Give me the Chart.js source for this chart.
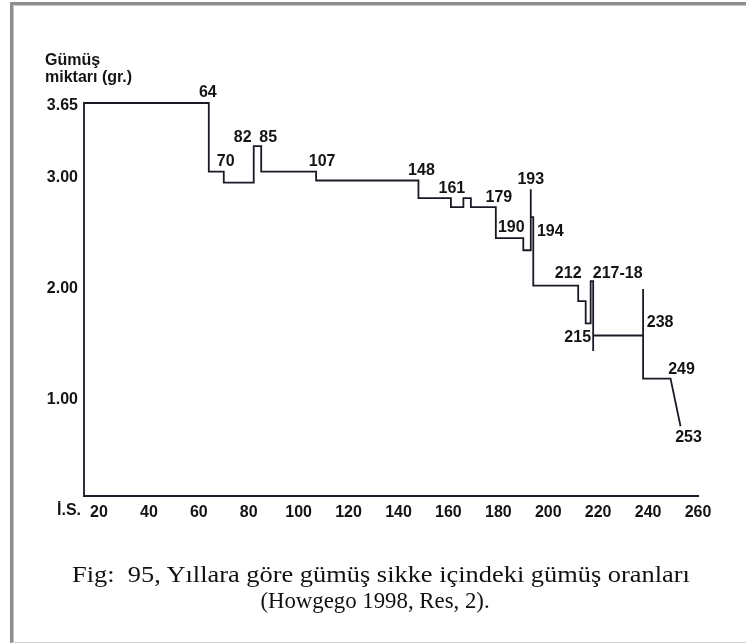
<!DOCTYPE html>
<html lang="tr">
<head>
<meta charset="utf-8">
<title>Gümüş miktarı</title>
<script src="https://cdn.jsdelivr.net/npm/chart.js@4.4.1/dist/chart.umd.min.js"></script>
<style>
    html, body { margin: 0; padding: 0; background: #fff; }
    body { width: 746px; height: 643px; position: relative; overflow: hidden; }
    .frame {
        position: absolute; left: 10px; top: 2px; width: 736px; height: 641px;
        box-sizing: border-box;
        border-left: 3px solid #8e8e8e; border-top: 3px solid #8e8e8e;
        border-bottom: 1px solid #d2d2d2;
        box-shadow: inset 1px 1px 0 #c6c6c6;
    }
    #chart { position: absolute; left: 0; top: 0; }
    .caption {
        position: absolute; left: 0; width: 762px; color: #111;
        text-align: center; white-space: nowrap;
        font-family: "Liberation Serif", "Times New Roman", serif;
        font-size: 24px; line-height: 26px;
    }
    .caption.first { top: 561px; transform: scaleX(1.1); }
    .caption.second { top: 587px; left: -6px; transform: scaleX(0.95); }
</style>
</head>
<body>
<div class="frame"></div>
<canvas id="chart" width="746" height="643"></canvas>
<div class="caption first">Fig:&nbsp; 95, Yıllara göre gümüş sikke içindeki gümüş oranları</div>
<div class="caption second">(Howgego 1998, Res, 2).</div>
<script>
// DATA - step line, year (İ.S.) and silver weight in grams
const years  = [14, 14, 64, 64, 70, 70, 82, 82, 85, 85, 107, 107, 148, 148, 161, 161, 166, 166, 169, 169,
                179, 179, 190, 190, 193, 193, 193, 194, 194, 212, 212, 215, 215, 217, 217, 218, 218, 218,
                238, 238, 238, 249, 253];
const silver = [0.1, 3.65, 3.65, 3.03, 3.03, 2.93, 2.93, 3.26, 3.26, 3.03, 3.03, 2.95, 2.95, 2.79, 2.79, 2.71, 2.71, 2.79, 2.79, 2.71,
                2.71, 2.43, 2.43, 2.32, 2.32, 2.87, 2.62, 2.62, 2.00, 2.00, 1.86, 1.86, 1.66, 1.66, 2.04, 2.04, 1.41, 1.55,
                1.55, 1.97, 1.16, 1.16, 0.73];

const xTicks = [20, 40, 60, 80, 100, 120, 140, 160, 180, 200, 220, 240, 260];
const yTicks = [1.00, 2.00, 3.00, 3.65];

// year labels written next to the steps
const stepLabels  = ['64', '70', '82', '85', '107', '148', '161', '179', '190', '193', '194', '212', '217-18', '215', '238', '249', '253'];
const labelYears  = [64, 70, 82, 85, 107, 148, 161, 179, 190, 193, 194, 212, 217, 215, 238, 249, 253];
const labelSilver = [3.65, 3.03, 3.26, 3.26, 3.03, 2.95, 2.79, 2.71, 2.43, 2.87, 2.62, 2.00, 2.04, 1.66, 1.55, 1.16, 0.73];

// pixel nudges for the labels, same order as stepLabels
const labelNudge = [[-1, -10], [2, -10], [-11, -9], [7, -9], [6, -10], [3, -10], [1, -10], [3, -9], [-12, -10],
                    [0, -10], [17, 15], [-10, -12], [27, -8], [-8, 14], [17, -13], [11, -9], [8, 11]];

const boldFont = 'bold 16px "Liberation Sans", Arial, sans-serif';
const ink = '#141414';

// STEP LABELS + AXIS TITLE
const stepLabelPlugin = {
    id: 'stepLabels',
    afterDraw(chart) {
        const ctx = chart.ctx;
        const x = chart.scales.x, y = chart.scales.y;
        ctx.save();
        ctx.font = boldFont;
        ctx.fillStyle = ink;
        ctx.textAlign = 'center';
        ctx.textBaseline = 'middle';
        stepLabels.forEach(function (txt, i) {
            const px = x.getPixelForValue(labelYears[i]) + labelNudge[i][0];
            const py = y.getPixelForValue(labelSilver[i]) + labelNudge[i][1];
            ctx.fillText(txt, px, py);
        });
        // era mark left of the year ticks
        ctx.fillText('İ.S.', chart.chartArea.left - 15, chart.chartArea.bottom + 15);
        // y axis title
        ctx.textAlign = 'left';
        ctx.textBaseline = 'alphabetic';
        ctx.fillText('Gümüş', 45, 65);
        ctx.fillText('miktarı (gr.)', 45, 82);
        ctx.restore();
    }
};

const points = years.map(function (yr, i) { return { x: yr, y: silver[i] }; });

new Chart(document.getElementById('chart'), {
    type: 'line',
    data: {
        datasets: [{
            data: points,
            borderColor: '#1a1a24',
            borderWidth: 1.8,
            pointRadius: 0,
            tension: 0,
            fill: false,
            clip: false
        }]
    },
    options: {
        responsive: false,
        animation: false,
        events: [],
        layout: { padding: { left: 44, right: 48, top: 103, bottom: 117 } },
        plugins: { legend: { display: false }, tooltip: { enabled: false } },
        scales: {
            x: {
                type: 'linear',
                min: 14,
                max: 260,
                grid: { display: false, drawTicks: false },
                border: { display: true, color: '#1c1c2a', width: 2 },
                afterBuildTicks: function (s) { s.ticks = xTicks.map(function (v) { return { value: v }; }); },
                afterFit: function (s) { s.height = 30; },
                ticks: {
                    padding: 7,
                    color: ink,
                    font: { family: '"Liberation Sans", Arial, sans-serif', size: 16, weight: 'bold' },
                    maxRotation: 0,
                    autoSkip: false,
                    callback: function (v) { return String(v); }
                }
            },
            y: {
                type: 'linear',
                min: 0.1,
                max: 3.65,
                grid: { display: false, drawTicks: false },
                border: { display: false },
                afterBuildTicks: function (s) { s.ticks = yTicks.map(function (v) { return { value: v }; }); },
                afterFit: function (s) { s.width = 40; },
                ticks: {
                    padding: 6,
                    labelOffset: 3,
                    color: ink,
                    font: { family: '"Liberation Sans", Arial, sans-serif', size: 16, weight: 'bold' },
                    autoSkip: false,
                    callback: function (v) { return v.toFixed(2); }
                }
            }
        }
    },
    plugins: [stepLabelPlugin]
});
</script>
</body>
</html>
